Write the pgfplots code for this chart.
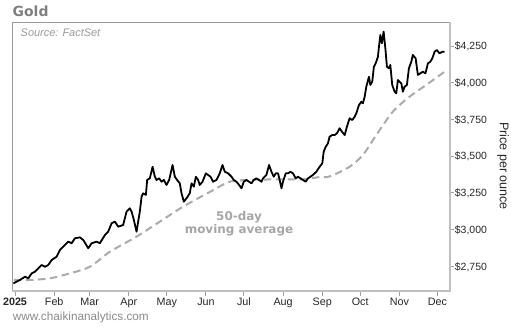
\documentclass[border=0pt]{standalone}
\usepackage{fontspec}
\setmainfont{Liberation Sans}
\newfontfamily\dvb{DejaVu Sans Bold}
\usepackage{pgfplots}
\pgfplotsset{compat=1.18}
\definecolor{frameg}{HTML}{999999}
\definecolor{axisg}{HTML}{C0C0C0}
\definecolor{mag}{HTML}{ABABAB}
\definecolor{titleg}{HTML}{7F7F7F}
\definecolor{srcg}{HTML}{999999}
\definecolor{webg}{HTML}{8A8A8A}
\definecolor{labg}{HTML}{A6A6A6}
\definecolor{tickg}{HTML}{A0A0A0}

\pgfplotstableread{
d p
-1.3 2634
3.9 2657
7.9 2679
10.5 2668
13.2 2702
15.8 2713
18.4 2736
21.1 2759
23.7 2747
26.3 2759
29.0 2793
32.9 2815
35.5 2861
39.5 2895
42.1 2918
44.8 2907
47.4 2941
51.3 2947
54.0 2929
57.9 2873
60.6 2907
64.5 2918
67.1 2907
71.1 2963
73.7 2986
76.4 3043
79.0 3054
81.6 3020
85.5 3031
88.2 3122
90.8 3145
92.2 3122
94.0 3065
96.1 2986
98.7 3122
100.1 3224
101.3 3247
103.5 3236
104.5 3338
106.6 3349
108.8 3428
110.6 3360
111.9 3338
114.0 3349
115.9 3326
117.7 3338
119.8 3304
121.9 3338
124.6 3440
126.4 3360
128.2 3338
130.3 3315
131.7 3247
133.5 3190
135.6 3213
138.2 3247
139.6 3315
141.4 3292
143.0 3360
144.8 3338
146.1 3304
148.3 3326
150.9 3383
152.7 3372
154.6 3360
156.6 3326
159.3 3338
161.9 3383
164.1 3440
165.9 3394
168.5 3383
171.2 3360
173.0 3338
175.1 3326
177.2 3304
179.1 3281
180.9 3326
183.0 3338
185.1 3326
187.0 3315
188.8 3338
190.9 3349
193.0 3338
194.9 3326
196.1 3349
198.8 3372
200.9 3440
202.8 3394
204.6 3360
206.2 3383
208.0 3383
209.3 3338
210.7 3281
211.9 3326
214.1 3383
215.9 3383
217.8 3394
219.8 3383
222.0 3349
223.8 3360
225.7 3349
227.7 3338
229.9 3326
231.7 3349
233.6 3360
235.6 3372
238.3 3394
240.9 3428
243.0 3451
244.1 3530
245.7 3564
247.5 3588
248.8 3633
250.9 3644
252.8 3644
254.6 3656
256.7 3690
258.5 3667
260.7 3644
262.5 3701
264.6 3758
266.7 3746
268.6 3769
269.9 3792
272.0 3848
273.9 3871
275.1 3860
276.5 3905
277.8 3973
279.9 4041
281.0 3985
282.5 4007
283.8 4109
285.2 4132
287.0 4177
287.8 4245
288.9 4325
290.1 4269
291.5 4348
293.0 4223
294.1 4109
295.7 4098
296.8 4121
298.3 3985
300.2 3939
301.5 3928
302.8 4019
304.1 4007
305.5 3996
306.7 3939
308.1 3973
309.9 3985
311.5 4098
313.4 4143
314.6 4189
316.8 4166
318.6 4053
320.5 4064
322.5 4075
324.6 4064
326.5 4132
328.4 4143
330.0 4166
331.8 4211
333.6 4223
335.7 4200
337.8 4211
339.7 4211
}\price

\pgfplotstableread{
d p
-0.8 2657
11.8 2657
27.6 2668
43.4 2702
59.2 2747
75.0 2849
96.1 2952
114.5 3054
132.9 3156
154.0 3256
169.8 3326
185.6 3338
206.7 3342
227.5 3342
240.9 3358
248.8 3362
264.6 3428
275.1 3508
285.7 3644
298.8 3803
312.0 3905
325.2 3985
339.7 4075
}\ma

\begin{document}
\begin{tikzpicture}[x=1bp,y=1bp]
\path[use as bounding box] (0,0) rectangle (511,326);
\begin{axis}[
  at={(12.3bp,35bp)}, anchor=south west,
  scale only axis, width=437.2bp, height=268.7bp,
  xmin=-2.14, xmax=343.6, ymin=2581.8, ymax=4411.6,
  axis line style={draw=none},
  xtick={0,31,59,90,120,151,181,212,243,273,304,334},
  xticklabels={\textbf{2025},Feb,Mar,Apr,May,Jun,Jul,Aug,Sep,Oct,Nov,Dec},
  ytick={2750,3000,3250,3500,3750,4000,4250},
  yticklabels={{\$2,750},{\$3,000},{\$3,250},{\$3,500},{\$3,750},{\$4,000},{\$4,250}},
  xtick pos=left, ytick pos=right, yticklabel pos=right,
  tick align=outside, major tick length=4.5bp,
  tick style={tickg, line width=1bp},
  xticklabel style={font=\fontsize{10.8}{12}\selectfont, text=black!85, anchor=north, inner sep=0pt, text height=7.7bp, text depth=0pt},
  yticklabel style={font=\fontsize{10.5}{12}\selectfont, text=black!85, anchor=west, inner sep=0pt, text height=7.5bp, text depth=0pt},
  xticklabel shift=1.8bp, yticklabel shift=0.7bp,
  clip=true,
]
\addplot[mag, line width=2bp, dash pattern=on 7.5bp off 4.5bp, smooth, tension=0.5] table[x=d,y=p] {\ma};
\addplot[black, line width=1.8bp, line join=round] table[x=d,y=p] {\price};
\end{axis}
\draw[frameg, line width=0.9bp] (12.3,35) -- (12.3,303.7) -- (449.5,303.7);
\draw[axisg, line width=2bp] (449.5,304.2) -- (449.5,35) -- (11.8,35);
\node[anchor=base west, inner sep=0pt, text=titleg, font=\dvb\fontsize{14}{16}\selectfont] at (12.5,309.5) {Gold};
\node[anchor=base west, inner sep=0pt, text=srcg, font=\itshape\fontsize{11}{13}\selectfont] at (20.5,290) {Source: FactSet};
\node[anchor=base west, inner sep=0pt, text=webg, font=\fontsize{11.8}{13}\selectfont] at (12.7,6) {www.chaikinanalytics.com};
\node[anchor=base, inner sep=0pt, text=labg, font=\dvb\fontsize{12}{14}\selectfont] at (239,105.3) {50-day};
\node[anchor=base, inner sep=0pt, text=labg, font=\dvb\fontsize{12}{14}\selectfont] at (239,92.7) {moving average};
\node[rotate=-90, inner sep=0pt, text=black!85, font=\fontsize{12.6}{14}\selectfont] at (503,160) {Price per ounce};
\end{tikzpicture}
\end{document}
